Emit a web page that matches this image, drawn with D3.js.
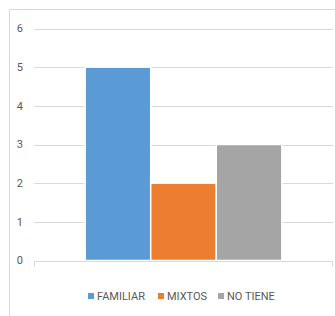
<!DOCTYPE html>
<html>
<head>
<meta charset="utf-8">
<script src="https://cdn.jsdelivr.net/npm/d3@7"></script>
<style>
  body { margin: 0; background: #fff; }
  text { font-family: "Liberation Sans Narrow", "Roboto", "DejaVu Sans Condensed", sans-serif; }
</style>
</head>
<body>
<div id="chart"></div>
<script>
var categories = [""];
var seriesNames = ["FAMILIAR", "MIXTOS", "NO TIENE"];
var seriesValues = [5, 2, 3];
var seriesColors = ["#5b9bd5", "#ed7d31", "#a5a5a5"];
var yTicks = [0, 1, 2, 3, 4, 5, 6];

var width = 335,
    height = 316,
    margin = {top: 28, right: 2, bottom: 55, left: 34};

var svg = d3.select("#chart")
    .append("svg")
    .attr("width", width)
    .attr("height", height);

// chart frame
svg.append("rect")
    .attr("x", 9.5)
    .attr("y", 9.5)
    .attr("width", width + 10)
    .attr("height", height + 10)
    .attr("fill", "none")
    .attr("stroke", "#d9d9d9");

var y = d3.scaleLinear()
    .domain([0, 6])
    .range([height - margin.bottom - 0.5, margin.top + 0.5]);

var x0 = d3.scaleBand()
    .domain(categories)
    .range([margin.left, width - margin.right])
    .paddingInner(0)
    .paddingOuter(0.26);

var x1 = d3.scaleBand()
    .domain(seriesNames)
    .range([0, x0.bandwidth()]);

// gridlines
svg.append("g")
    .selectAll("line")
    .data(yTicks.filter(function(d) { return d > 0; }))
    .enter()
    .append("line")
    .attr("x1", margin.left)
    .attr("x2", width - margin.right)
    .attr("y1", function(d) { return Math.round(y(d)) + 0.5; })
    .attr("y2", function(d) { return Math.round(y(d)) + 0.5; })
    .attr("stroke", "#d9d9d9")
    .attr("stroke-width", 1);

// y labels
svg.append("g")
    .selectAll("text")
    .data(yTicks)
    .enter()
    .append("text")
    .attr("x", 23)
    .attr("y", function(d) { return y(d); })
    .attr("dy", "0.35em")
    .attr("text-anchor", "end")
    .attr("font-size", 11)
    .attr("fill", "#595959")
    .text(function(d) { return d; });

// bars
svg.append("g")
    .selectAll("rect")
    .data(seriesValues)
    .enter()
    .append("rect")
    .attr("x", function(d, i) { return x0(categories[0]) + x1(seriesNames[i]); })
    .attr("y", function(d) { return y(d); })
    .attr("width", x1.bandwidth())
    .attr("height", function(d) { return y(0) - y(d); })
    .attr("fill", function(d, i) { return seriesColors[i]; })
    .attr("stroke", "#fff")
    .attr("stroke-width", 1.5);

// x axis line with edge ticks
var axisY = Math.round(y(0)) + 0.5;
svg.append("line")
    .attr("x1", margin.left)
    .attr("x2", width - margin.right)
    .attr("y1", axisY)
    .attr("y2", axisY)
    .attr("stroke", "#d9d9d9");
svg.append("g")
    .selectAll("line")
    .data([margin.left + 0.5, width - margin.right - 0.5])
    .enter()
    .append("line")
    .attr("x1", function(d) { return d; })
    .attr("x2", function(d) { return d; })
    .attr("y1", axisY)
    .attr("y2", axisY + 5)
    .attr("stroke", "#d9d9d9");

// legend
var legendX = [88, 158, 218];
var legend = svg.append("g")
    .selectAll("g")
    .data(seriesNames)
    .enter()
    .append("g")
    .attr("transform", function(d, i) { return "translate(" + legendX[i] + ",296)"; });

legend.append("rect")
    .attr("x", 0)
    .attr("y", -3)
    .attr("width", 6)
    .attr("height", 6)
    .attr("fill", function(d, i) { return seriesColors[i]; });

legend.append("text")
    .attr("x", 9)
    .attr("y", 0)
    .attr("dy", "0.35em")
    .attr("font-size", 11)
    .attr("fill", "#595959")
    .text(function(d) { return d; });
</script>
</body>
</html>
